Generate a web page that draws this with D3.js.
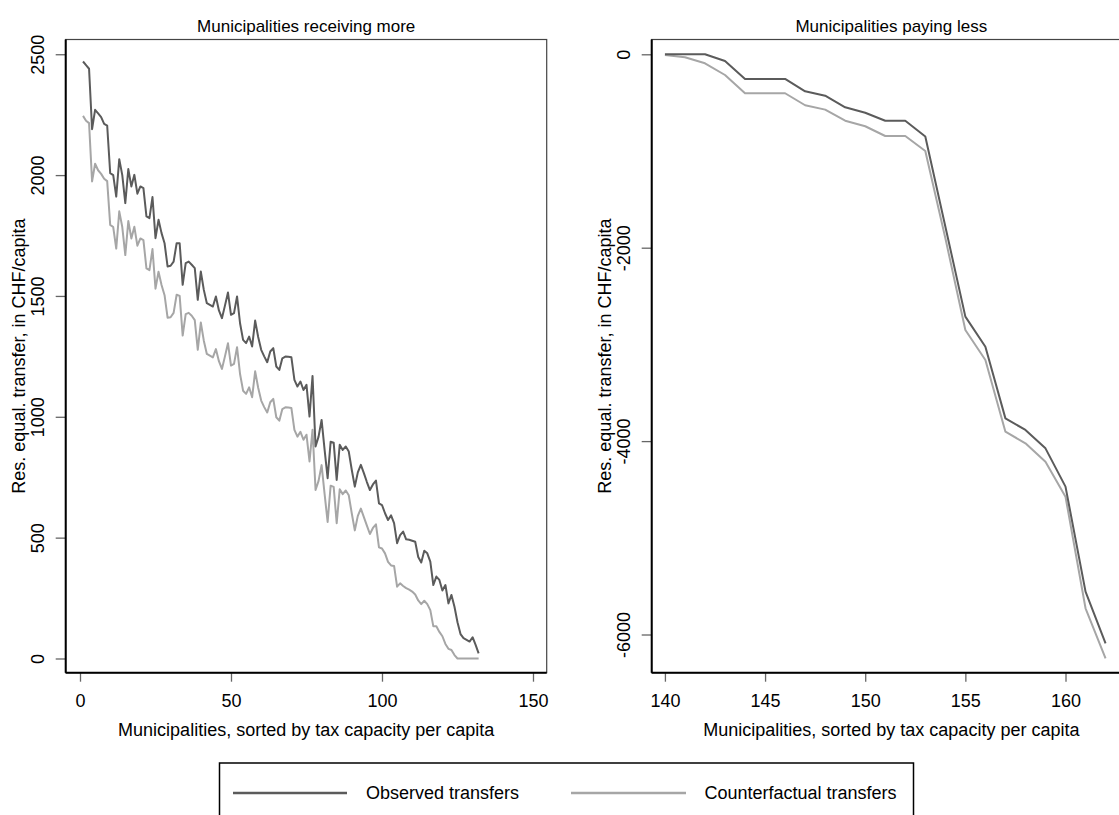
<!DOCTYPE html>
<html>
<head>
<meta charset="utf-8">
<script src="https://cdn.jsdelivr.net/npm/d3@7"></script>
<style>
  html, body { margin: 0; padding: 0; background: #fff; }
  svg { display: block; font-family: "Liberation Sans", Arial, sans-serif; }
</style>
</head>
<body>
<svg id="chart" width="1119" height="815"></svg>
<script>
// Residual equalisation transfers (CHF per capita), municipalities sorted by tax capacity per capita

// Panel 1: municipalities receiving more (rank 1..132)
const receivingRank = d3.range(1, 133);
const receivingObserved = [
  2470, 2455, 2440, 2190, 2270, 2255, 2240, 2212, 2205, 2008,
  2000, 1911, 2066, 2000, 1884, 2025, 1953, 2001, 1923, 1953,
  1946, 1829, 1822, 1909, 1739, 1815, 1760, 1718, 1622, 1625,
  1642, 1718, 1718, 1546, 1636, 1642, 1629, 1615, 1484, 1601,
  1525, 1470, 1463, 1456, 1498, 1440, 1408, 1460, 1514, 1422,
  1429, 1498, 1387, 1318, 1305, 1332, 1291, 1398, 1330, 1277,
  1250, 1226, 1270, 1284, 1208, 1194, 1242, 1249, 1248, 1246,
  1153, 1125, 1146, 1111, 1132, 1001, 1169, 877, 918, 987,
  863, 746, 897, 893, 739, 884, 863, 877, 856, 780,
  711, 770, 801, 767, 730, 697, 720, 736, 642, 635,
  601, 573, 592, 560, 477, 510, 525, 493, 491, 487,
  483, 420, 397, 446, 435, 401, 304, 339, 325, 281,
  304, 228, 263, 214, 150, 101, 84, 77, 70, 88,
  56, 21
];
const receivingCounterfactual = [
  2245, 2225, 2215, 1974, 2047, 2020, 2005, 1985, 1975, 1794,
  1785, 1696, 1850, 1785, 1669, 1810, 1738, 1786, 1708, 1738,
  1731, 1614, 1607, 1694, 1530, 1600, 1545, 1503, 1410, 1412,
  1430, 1505, 1500, 1336, 1425, 1430, 1418, 1400, 1277, 1390,
  1315, 1260, 1253, 1246, 1280, 1230, 1198, 1250, 1304, 1212,
  1219, 1288, 1177, 1108, 1095, 1122, 1081, 1188, 1120, 1067,
  1040, 1018, 1060, 1074, 998, 984, 1032, 1039, 1038, 1036,
  946, 918, 938, 905, 926, 815, 946, 697, 735, 800,
  680, 565, 715, 710, 560, 700, 680, 695, 675, 600,
  530, 590, 620, 585, 550, 515, 540, 555, 460, 455,
  435, 400, 385, 383, 297, 311, 300, 291, 285, 277,
  265, 240, 225, 239, 225, 200, 133, 133, 110, 92,
  60, 40, 35, 14, 0, 0, 0, 0, 0, 0,
  0, 0
];

// Panel 2: municipalities paying less (rank 140..162)
const payingRank = d3.range(140, 163);
const payingObserved = [
  0, 0, 0, -69, -255, -255, -255, -383, -428, -548,
  -604, -687, -687, -850, -1780, -2713, -3024, -3765, -3885, -4075,
  -4471, -5557, -6091
];
const payingCounterfactual = [
  -7, -31, -93, -214, -403, -403, -403, -527, -572, -687,
  -744, -845, -845, -1000, -1900, -2851, -3161, -3903, -4023, -4213,
  -4575, -5729, -6246
];

// Axis ticks and labels
const receivingXTicks = [0, 50, 100, 150];
const receivingYTicks = [0, 500, 1000, 1500, 2000, 2500];
const payingXTicks = [140, 145, 150, 155, 160];
const payingYTicks = [0, -2000, -4000, -6000];

const panelTitles = ["Municipalities receiving more", "Municipalities paying less"];
const xTitle = "Municipalities, sorted by tax capacity per capita";
const yTitle = "Res. equal. transfer, in CHF/capita";
const seriesNames = ["Observed transfers", "Counterfactual transfers"];
const seriesColors = ["#5b5b5b", "#a6a6a6"];

const svg = d3.select("#chart");
const FONT = 18;
const plainNumber = d => String(d);   // ASCII hyphen for negatives

const plotTop = 39.5, plotBottom = 672.7;

function drawPanel(cfg) {
  const g = svg.append("g");
  const x = d3.scaleLinear().domain(cfg.xDomain).range([cfg.left, cfg.right]);
  const y = d3.scaleLinear().domain(cfg.yDomain).range([plotBottom, plotTop]);

  // plot region frame
  g.append("rect")
    .attr("x", cfg.left).attr("y", plotTop)
    .attr("width", cfg.right - cfg.left).attr("height", plotBottom - plotTop)
    .attr("fill", "none").attr("stroke", "#444").attr("stroke-width", 1.2);

  // series lines
  const line = d3.line().x(d => x(d[0])).y(d => y(d[1]));
  const clipId = "clip" + cfg.id;
  g.append("clipPath").attr("id", clipId).append("rect")
    .attr("x", cfg.left).attr("y", plotTop)
    .attr("width", cfg.right - cfg.left).attr("height", plotBottom - plotTop);
  const lines = g.append("g").attr("clip-path", `url(#${clipId})`);
  [cfg.cf, cfg.obs].forEach((vals, k) => {
    const idx = k === 0 ? 1 : 0;
    lines.append("path")
      .datum(cfg.rank.map((r, i) => [r, vals[i]]))
      .attr("fill", "none")
      .attr("stroke", seriesColors[idx])
      .attr("stroke-width", 2)
      .attr("stroke-linejoin", "round")
      .attr("d", line);
  });

  // x axis
  const xAxis = g.append("g")
    .attr("transform", `translate(0,${plotBottom})`)
    .call(d3.axisBottom(x).tickValues(cfg.xTicks).tickSize(9).tickPadding(13).tickFormat(plainNumber));
  xAxis.select(".domain").remove();
  xAxis.selectAll(".tick line").attr("stroke", "#666").attr("stroke-width", 1.3);
  xAxis.selectAll(".tick text")
    .attr("font-size", FONT).attr("fill", "#000")
    .attr("font-family", "Liberation Sans, Arial, sans-serif");

  // y axis with vertical labels
  const yAxis = g.append("g")
    .attr("transform", `translate(${cfg.left},0)`)
    .call(d3.axisLeft(y).tickValues(cfg.yTicks).tickSize(10).tickFormat(plainNumber));
  yAxis.select(".domain").remove();
  yAxis.selectAll(".tick line").attr("stroke", "#666").attr("stroke-width", 1.3);
  yAxis.selectAll(".tick text")
    .attr("x", null).attr("dy", null)
    .attr("transform", "translate(-28,0) rotate(-90)")
    .attr("text-anchor", "middle")
    .attr("dominant-baseline", "central")
    .attr("font-size", FONT).attr("fill", "#000")
    .attr("font-family", "Liberation Sans, Arial, sans-serif");

  // axis lines
  g.append("line").attr("x1", cfg.left).attr("x2", cfg.right)
    .attr("y1", plotBottom).attr("y2", plotBottom).attr("stroke", "#000").attr("stroke-width", 2);
  g.append("line").attr("x1", cfg.left).attr("x2", cfg.left)
    .attr("y1", plotTop).attr("y2", plotBottom).attr("stroke", "#000").attr("stroke-width", 2);

  // titles
  g.append("text")
    .attr("x", (cfg.left + cfg.right) / 2).attr("y", 32)
    .attr("text-anchor", "middle").attr("font-size", 17)
    .text(cfg.title);
  g.append("text")
    .attr("x", (cfg.left + cfg.right) / 2).attr("y", 736)
    .attr("text-anchor", "middle").attr("font-size", FONT)
    .text(xTitle);
  g.append("text")
    .attr("transform", `translate(${cfg.left - 47},${(plotTop + plotBottom) / 2}) rotate(-90)`)
    .attr("text-anchor", "middle").attr("dominant-baseline", "central")
    .attr("font-size", FONT)
    .text(yTitle);
}

// x(0)=80, x(150)=533 ; y(0)=658.5, y(2500)=54.3
drawPanel({
  id: 1, left: 65.7, right: 546.7,
  xDomain: [-4.735, 154.54], yDomain: [-58.8, 2561],
  rank: receivingRank, obs: receivingObserved, cf: receivingCounterfactual,
  xTicks: receivingXTicks, yTicks: receivingYTicks, title: panelTitles[0]
});
// x(140)=665.3, 20.6 px per unit ; y(0)=54.3, y(-6000)=634.5
drawPanel({
  id: 2, left: 651.7, right: 1131,
  xDomain: [139.34, 163.27], yDomain: [-6395, 153],
  rank: payingRank, obs: payingObserved, cf: payingCounterfactual,
  xTicks: payingXTicks, yTicks: payingYTicks, title: panelTitles[1]
});

// legend
const legend = svg.append("g");
legend.append("rect")
  .attr("x", 219.5).attr("y", 763).attr("width", 694).attr("height", 60)
  .attr("fill", "#fff").attr("stroke", "#000").attr("stroke-width", 1.5);
const legendItems = [
  { x1: 233, x2: 347, tx: 366 },
  { x1: 571, x2: 686, tx: 704.5 }
];
legendItems.forEach((it, i) => {
  legend.append("line")
    .attr("x1", it.x1).attr("x2", it.x2).attr("y1", 793).attr("y2", 793)
    .attr("stroke", seriesColors[i]).attr("stroke-width", 2.5);
  legend.append("text")
    .attr("x", it.tx).attr("y", 793)
    .attr("dominant-baseline", "central")
    .attr("font-size", FONT)
    .text(seriesNames[i]);
});
</script>
</body>
</html>
